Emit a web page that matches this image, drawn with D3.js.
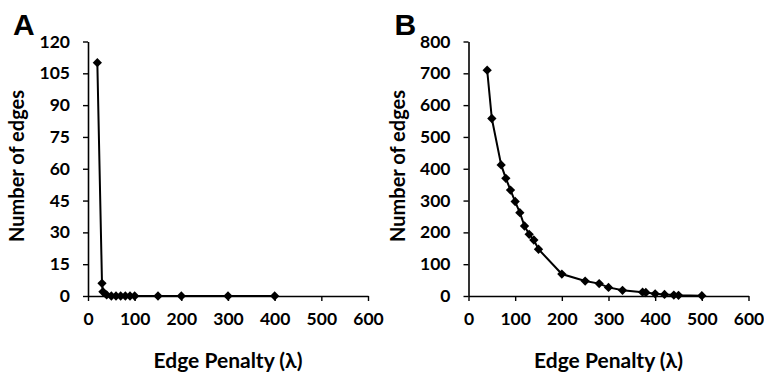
<!DOCTYPE html>
<html>
<head>
<meta charset="utf-8">
<script src="https://cdn.jsdelivr.net/npm/d3@7"></script>
<style>
  body { margin: 0; background: #fff; }
  text { font-family: Lato, 'Open Sans', sans-serif; font-weight: bold; fill: #000; }
</style>
</head>
<body>
<svg id="chart" width="764" height="373"></svg>
<script>
// panel A: edge penalty vs number of edges
const penaltyA = [20, 30, 32, 40, 50, 60, 70, 80, 90, 100, 150, 200, 300, 400];
const edgesA = [110, 6, 2, 0.5, 0, 0, 0, 0, 0, 0, 0, 0, 0, 0];

// panel B
const penaltyB = [40, 50, 70, 80, 90, 100, 110, 120, 130, 140, 150, 200, 250, 280, 300, 330, 373, 380, 400, 420, 440, 450, 500];
const edgesB = [710, 558, 412, 370, 333, 297, 262, 220, 194, 176, 147, 69, 47, 39, 27, 18, 12, 11, 7, 5, 3, 2, 1];

const xTicks = [0, 100, 200, 300, 400, 500, 600];
const yTicksA = [0, 15, 30, 45, 60, 75, 90, 105, 120];
const yTicksB = [0, 100, 200, 300, 400, 500, 600, 700, 800];

const svg = d3.select('#chart');

function drawPanel(opts) {
    const g = svg.append('g').attr('transform', `translate(${opts.left},0)`);
    const w = 280;
    const top = 41.5, bottom = 296;

    const x = d3.scaleLinear().domain([0, 600]).range([0, w]);
    const y = d3.scaleLinear().domain([0, opts.yMax]).range([bottom, top]);

    // x axis
    const xAxis = g.append('g')
        .attr('transform', `translate(0,${bottom})`)
        .call(d3.axisBottom(x).tickValues(xTicks).tickSize(5).tickPadding(12).tickSizeOuter(0));
    xAxis.select('.domain').attr('stroke', '#000').attr('stroke-width', 1.6);
    xAxis.selectAll('.tick line').attr('stroke', '#000').attr('stroke-width', 1.4);
    xAxis.selectAll('text').style('font-size', '17.5px').attr('fill', '#000');

    // y axis
    const yAxis = g.append('g')
        .call(d3.axisLeft(y).tickValues(opts.yTicks).tickSize(5).tickPadding(13).tickSizeOuter(0));
    yAxis.select('.domain').attr('stroke', '#000').attr('stroke-width', 1.6);
    yAxis.selectAll('.tick line').attr('stroke', '#000').attr('stroke-width', 1.4);
    yAxis.selectAll('text').style('font-size', '17.5px').attr('fill', '#000');

    const pts = opts.xs.map((v, i) => ({ x: v, y: opts.ys[i] }));

    g.append('path')
        .datum(pts)
        .attr('fill', 'none')
        .attr('stroke', '#000')
        .attr('stroke-width', 2)
        .attr('d', d3.line().x(d => x(d.x)).y(d => y(d.y)));

    g.append('g')
        .selectAll('path.pt')
        .data(pts)
        .enter()
        .append('path')
            .attr('class', 'pt')
            .attr('transform', d => `translate(${x(d.x)},${y(d.y)})`)
            .attr('d', d3.symbol().type(d3.symbolDiamond2).size(55))
            .attr('fill', '#000');

    // titles
    g.append('text')
        .attr('x', w / 2)
        .attr('y', 368)
        .attr('text-anchor', 'middle')
        .style('font-size', '21px')
        .text('Edge Penalty (λ)');

    g.append('text')
        .attr('transform', `translate(${-64},${166}) rotate(-90)`)
        .attr('text-anchor', 'middle')
        .style('font-size', '20px')
        .text('Number of edges');

    g.append('text')
        .attr('x', opts.labelX)
        .attr('y', 35)
        .style('font-family', "'Liberation Sans', Arial, sans-serif")
        .style('font-size', '30px')
        .text(opts.label);
}

drawPanel({ left: 88, yMax: 120, yTicks: yTicksA, xs: penaltyA, ys: edgesA, label: 'A', labelX: -75 });
drawPanel({ left: 468.5, yMax: 800, yTicks: yTicksB, xs: penaltyB, ys: edgesB, label: 'B', labelX: -74 });
</script>
</body>
</html>
